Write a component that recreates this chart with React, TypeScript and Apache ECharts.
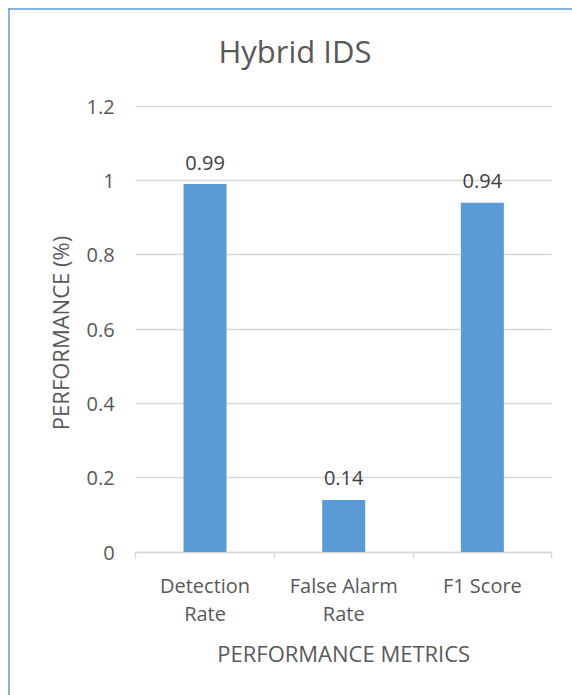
import React, { useEffect, useRef } from "react";
import * as echarts from "echarts";

const categories = ["Detection\nRate", "False Alarm\nRate", "F1 Score"];
const values = [0.99, 0.14, 0.94];
const yTicks = { min: 0, max: 1.2, interval: 0.2 };
const titleText = "Hybrid IDS";
const xAxisTitle = "PERFORMANCE METRICS";
const yAxisTitle = "PERFORMANCE (%)";

const FONT = "'Open Sans', 'Liberation Sans', sans-serif";
const BLUE = "#5B9BD5";

export default function App() {
  const ref = useRef<HTMLDivElement>(null);
  useEffect(() => {
    if (!ref.current) return;
    const chart = echarts.init(ref.current, null, { renderer: "svg" });
    chart.setOption({
      animation: false,
      backgroundColor: "#ffffff",
      grid: { left: 127.7, right: 20.3, top: 98, bottom: 143, containLabel: false },
      xAxis: {
        type: "category",
        data: categories,
        axisLine: { show: true, lineStyle: { color: "#D9D9D9", width: 1.3 } },
        axisTick: { show: true, length: 7, lineStyle: { color: "#D9D9D9", width: 1.3 } },
        axisLabel: {
          color: "#595959",
          fontFamily: FONT,
          fontSize: 20,
          lineHeight: 28,
          margin: 19,
          interval: 0,
        },
      },
      yAxis: {
        type: "value",
        min: yTicks.min,
        max: yTicks.max,
        interval: yTicks.interval,
        axisLine: { show: false },
        axisTick: { show: false },
        splitLine: { lineStyle: { color: "#D9D9D9", width: 1.3 } },
        axisLabel: {
          color: "#595959",
          fontFamily: FONT,
          fontSize: 20,
          margin: 21,
        },
      },
      series: [
        {
          type: "bar",
          data: values,
          barWidth: 43,
          itemStyle: { color: BLUE },
          label: {
            show: true,
            position: "top",
            distance: 12,
            color: "#404040",
            fontFamily: FONT,
            fontSize: 20,
          },
        },
      ],
      graphic: [
        {
          type: "line",
          shape: { x1: 1, y1: 0.25, x2: 1, y2: 687 },
          style: { stroke: BLUE, lineWidth: 1.5 },
        },
        {
          type: "line",
          shape: { x1: 0.25, y1: 1, x2: 564, y2: 1 },
          style: { stroke: BLUE, lineWidth: 1.5 },
        },
        {
          type: "text",
          x: 287,
          y: 43,
          style: {
            text: titleText,
            fill: "#595959",
            font: `31px ${FONT}`,
            align: "center",
            verticalAlign: "middle",
          },
        },
        {
          type: "text",
          x: 335.7,
          y: 645,
          style: {
            text: xAxisTitle,
            fill: "#595959",
            font: `22px ${FONT}`,
            align: "center",
            verticalAlign: "middle",
          },
        },
        {
          type: "text",
          x: 51.8,
          y: 325,
          rotation: Math.PI / 2,
          style: {
            text: yAxisTitle,
            fill: "#595959",
            font: `22px ${FONT}`,
            align: "center",
            verticalAlign: "middle",
          },
        },
      ],
    });
    return () => chart.dispose();
  }, []);
  return (
    <div
      ref={ref}
      style={{ position: "fixed", left: 8, top: 8, width: 564, height: 687 }}
    />
  );
}
